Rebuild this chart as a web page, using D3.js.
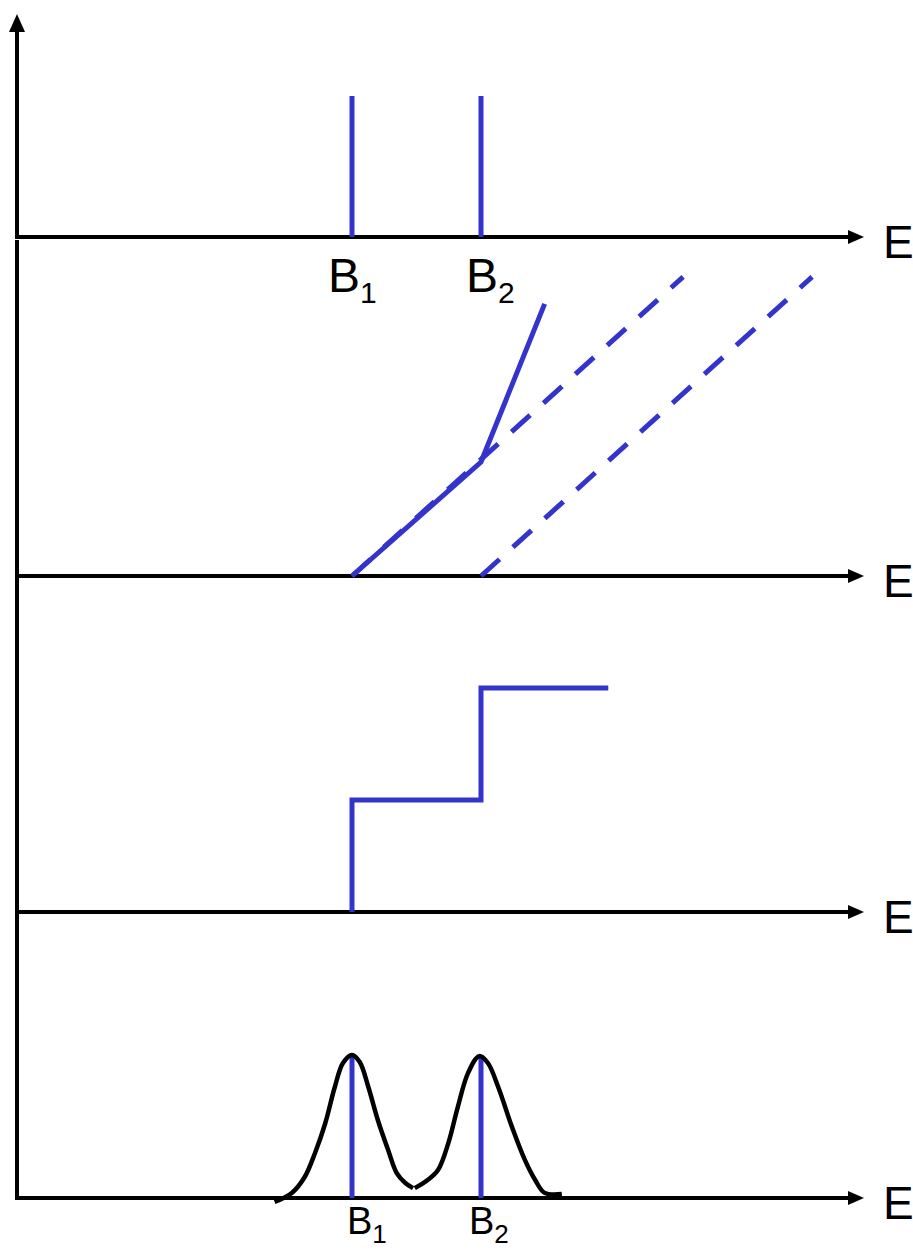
<!DOCTYPE html>
<html>
<head>
<meta charset="utf-8">
<script src="https://cdn.jsdelivr.net/npm/d3@7"></script>
<style>
  body { margin: 0; background: #fff; }
  text { font-family: "Liberation Sans", Arial, sans-serif; fill: #000; }
</style>
</head>
<body>
<div id="chart"></div>
<script>
// energy levels (arbitrary units)
var levelNames = ["1", "2"];
var levelEnergies = [40, 55];
var lineHeight = 4.7;

// panel 2: solid line and the two dashed reference lines
var solidLine = [[40, 0], [55, 3.8], [62.4, 9.07]];
var dashedLine1 = [[40, 0], [78.5, 9.97]];
var dashedLine2 = [[55, 0], [93.5, 9.97]];

// panel 3: step function
var stepLine = [[40, 0], [40, 3.73], [55, 3.73], [55, 7.47], [69.8, 7.47]];

// panel 4: two broadened peaks
var peak1 = [[31.0, -0.13], [33.0, 0.17], [34.5, 0.7], [35.7, 1.5], [36.9, 2.5], [38.0, 3.7],
             [38.95, 4.5], [40.0, 4.77], [40.9, 4.53], [41.9, 3.7], [43.0, 2.6], [44.2, 1.6],
             [45.2, 0.83], [46.2, 0.5], [47.1, 0.33]];
var peak2 = [[47.3, 0.33], [48.8, 0.6], [50.0, 0.93], [51.2, 1.83], [52.3, 3.03], [53.5, 4.17],
             [54.8, 4.73], [55.8, 4.5], [57.0, 3.7], [58.6, 2.37], [60.1, 1.27], [61.3, 0.6],
             [62.4, 0.17], [64.4, 0.13]];
var peakHeight = 4.77;

var width = 913, height = 1250;
var blue = "#3434cc";
var axisLeft = 17, arrowTip = 864;
var bases = [237, 576, 912, 1198];

var svg = d3.select("#chart")
  .append("svg")
    .attr("width", width)
    .attr("height", height);

var x = d3.scaleLinear().domain([0, 100]).range([8, 868]);
function yScale(base) {
  return d3.scaleLinear().domain([0, 10]).range([base, base - 300]);
}
var ys = bases.map(yScale);

// vertical axis (top piece with arrow, then long piece below)
svg.append("line")
  .attr("x1", axisLeft).attr("x2", axisLeft)
  .attr("y1", bases[0]).attr("y2", 30)
  .attr("stroke", "#000").attr("stroke-width", 4);
svg.append("path")
  .attr("d", "M" + (axisLeft - 8) + ",32 L" + axisLeft + ",14 L" + (axisLeft + 8) + ",32 Z")
  .attr("fill", "#000");
svg.append("line")
  .attr("x1", axisLeft).attr("x2", axisLeft)
  .attr("y1", bases[0] + 3).attr("y2", bases[3] + 2)
  .attr("stroke", "#000").attr("stroke-width", 4);

// horizontal axes with arrow and E label
bases.forEach(function(b) {
  svg.append("line")
    .attr("x1", axisLeft - 2).attr("x2", arrowTip - 10)
    .attr("y1", b).attr("y2", b)
    .attr("stroke", "#000").attr("stroke-width", 4);
  svg.append("path")
    .attr("d", "M" + (arrowTip - 16) + "," + (b - 7) + " L" + arrowTip + "," + b +
               " L" + (arrowTip - 16) + "," + (b + 7) + " Z")
    .attr("fill", "#000");
  svg.append("text")
    .attr("x", 883).attr("y", b + 21)
    .attr("font-size", 46)
    .text("E");
});

var line = d3.line()
  .x(function(d) { return x(d[0]); });

// panel 1: sticks
svg.selectAll(".stick")
  .data(levelEnergies)
  .enter().append("line")
    .attr("x1", function(d) { return x(d); })
    .attr("x2", function(d) { return x(d); })
    .attr("y1", ys[0](0))
    .attr("y2", ys[0](lineHeight))
    .attr("stroke", blue).attr("stroke-width", 5);

function subLabel(xPos, yPos, big, small, shift, name) {
  var t = svg.append("text")
    .attr("x", xPos).attr("y", yPos)
    .attr("font-size", big);
  t.append("tspan").text("B");
  t.append("tspan").attr("font-size", small).attr("dy", shift).text(name);
}
var topLabelX = [328, 466];
levelNames.forEach(function(n, i) {
  subLabel(topLabelX[i], bases[0] + 55, 48, 30, 11, n);
});

// panel 2
line.y(function(d) { return ys[1](d[1]); });
[dashedLine1, dashedLine2].forEach(function(d) {
  svg.append("path")
    .attr("d", line(d))
    .attr("fill", "none")
    .attr("stroke", blue).attr("stroke-width", 5)
    .attr("stroke-dasharray", "25,18");
});
svg.append("path")
  .attr("d", line(solidLine))
  .attr("fill", "none")
  .attr("stroke", blue).attr("stroke-width", 5);

// panel 3
line.y(function(d) { return ys[2](d[1]); });
svg.append("path")
  .attr("d", line(stepLine))
  .attr("fill", "none")
  .attr("stroke", blue).attr("stroke-width", 5);

// panel 4
svg.selectAll(".peakline")
  .data(levelEnergies)
  .enter().append("line")
    .attr("x1", function(d) { return x(d); })
    .attr("x2", function(d) { return x(d); })
    .attr("y1", ys[3](0))
    .attr("y2", ys[3](peakHeight))
    .attr("stroke", blue).attr("stroke-width", 5);

var curve = d3.line()
  .x(function(d) { return x(d[0]); })
  .y(function(d) { return ys[3](d[1]); })
  .curve(d3.curveCatmullRom);
[peak1, peak2].forEach(function(p) {
  svg.append("path")
    .attr("d", curve(p))
    .attr("fill", "none")
    .attr("stroke", "#000").attr("stroke-width", 4.5);
});

var bottomLabelX = [347, 469];
levelNames.forEach(function(n, i) {
  subLabel(bottomLabelX[i], bases[3] + 36, 38, 26, 9, n);
});
</script>
</body>
</html>
